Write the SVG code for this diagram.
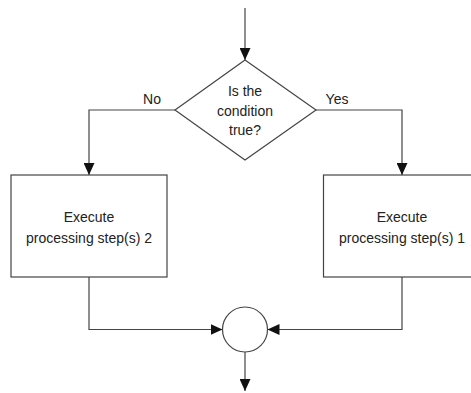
<svg xmlns="http://www.w3.org/2000/svg" width="471" height="393" viewBox="0 0 471 393">
<style>
.s{fill:#fff;stroke:#444;stroke-width:1.2}
.c{fill:none;stroke:#444;stroke-width:1.2}
text{font-family:"Liberation Sans",Arial,sans-serif;font-size:14px;fill:#222;text-anchor:middle}
</style>
<defs>
<marker id="a" viewBox="0 0 12 11" refX="12" refY="5.5" markerWidth="12" markerHeight="11" markerUnits="userSpaceOnUse" orient="auto">
<path d="M0,0 L12,5.5 L0,11 Z" fill="#111"/>
</marker>
</defs>
<rect width="471" height="393" fill="#fff"/>
<g id="connectors">
<path class="c" d="M245,8 V60" marker-end="url(#a)"/>
<path class="c" d="M175,110 H89 V175" marker-end="url(#a)"/>
<path class="c" d="M316,110 H402 V175" marker-end="url(#a)"/>
<path class="c" d="M89,277 V329.5 H222.5" marker-end="url(#a)"/>
<path class="c" d="M402,277 V329.5 H267.5" marker-end="url(#a)"/>
<path class="c" d="M245,352 V391" marker-end="url(#a)"/>
<text x="152" y="104">No</text>
<text x="337" y="104">Yes</text>
</g>
<g id="decision">
<path class="s" d="M245,60 L316,110 L245,160 L175,110 Z"/>
<text x="245" y="96">Is the</text>
<text x="245" y="116">condition</text>
<text x="245" y="135">true?</text>
</g>
<g id="step2">
<rect class="s" x="11" y="175" width="156" height="102"/>
<text x="89" y="222">Execute</text>
<text x="89" y="243">processing step(s) 2</text>
</g>
<g id="step1">
<rect class="s" x="323.5" y="175" width="160" height="102"/>
<text x="402" y="222">Execute</text>
<text x="402" y="243">processing step(s) 1</text>
</g>
<g id="merge">
<circle class="s" cx="245" cy="329.5" r="22.5"/>
</g>
</svg>
